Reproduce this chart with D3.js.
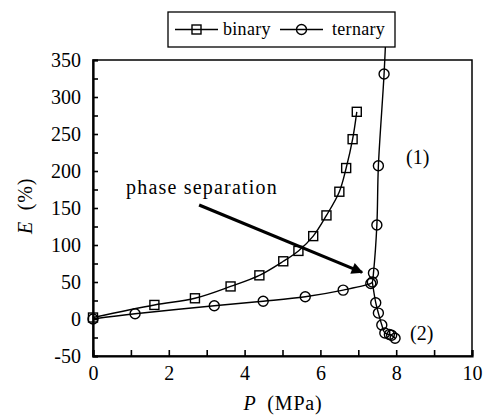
<!DOCTYPE html>
<html>
<head>
<meta charset="utf-8">
<script src="https://cdn.jsdelivr.net/npm/d3@7/dist/d3.min.js"></script>
<style>
  html, body { margin: 0; padding: 0; background: #fff; }
  svg { display: block; }
</style>
</head>
<body>
<svg id="chart" width="483" height="418"></svg>
<script>
// Binary mixture: pressure P (MPa) vs expansion E (%)
const binaryP = [0, 1.62, 2.69, 3.63, 4.39, 5.02, 5.42, 5.81, 6.16, 6.5, 6.68, 6.85, 6.96];
const binaryE = [2, 19, 28, 44, 59, 78, 92, 112, 140, 172, 204, 243, 280];

// Ternary mixture, branch (1): rising branch after phase separation
const ternaryP = [0, 1.11, 3.2, 4.49, 5.6, 6.6, 7.33, 7.37, 7.4, 7.49, 7.53, 7.68, 7.74];
const ternaryE = [0, 7, 18, 24, 30, 39, 48, 50, 62, 127, 207, 331, 400];

// Ternary mixture, branch (2): falling branch after phase separation
const ternaryLowP = [7.37, 7.46, 7.53, 7.62, 7.7, 7.82, 7.88, 7.97];
const ternaryLowE = [50, 22, 8, -8, -19, -21, -22, -26];

const xTicks = [0, 2, 4, 6, 8, 10];
const yTicks = [-50, 0, 50, 100, 150, 200, 250, 300, 350];
const seriesNames = ["binary", "ternary"];

const SERIF = "'Liberation Serif', 'Times New Roman', serif";

const svg = d3.select("#chart");
const margin = { left: 93, top: 60, right: 11, bottom: 62 };
const W = 483, H = 418;
const x = d3.scaleLinear().domain([0, 10]).range([margin.left, W - margin.right]);
const y = d3.scaleLinear().domain([-50, 350]).range([H - margin.bottom, margin.top]);

const zip = (a, b) => a.map((v, i) => [v, b[i]]);
const binary = zip(binaryP, binaryE);
const ternary = zip(ternaryP, ternaryE);
const ternaryLow = zip(ternaryLowP, ternaryLowE);

// helper for serif labels
function label(sel, x0, y0, size) {
  return sel.append("text").attr("x", x0).attr("y", y0)
    .attr("font-family", SERIF).attr("font-size", size).attr("fill", "#000");
}

// frame
svg.append("rect")
  .attr("x", x(0)).attr("y", y(350))
  .attr("width", x(10) - x(0)).attr("height", y(-50) - y(350))
  .attr("fill", "none").attr("stroke", "#000").attr("stroke-width", 1.5);

// axes with inward ticks
const xAxis = d3.axisBottom(x).tickValues(d3.range(0, 10.01, 1)).tickSize(-6).tickPadding(10)
  .tickFormat(d => xTicks.includes(d) ? d3.format("d")(d) : "");
const gx = svg.append("g").attr("transform", `translate(0,${y(-50)})`).call(xAxis)
  .attr("font-family", SERIF).attr("font-size", 20);
gx.select(".domain").attr("stroke-width", 2.2);
gx.selectAll(".tick line").attr("stroke-width", 1.6);

const yAxis = d3.axisLeft(y).tickValues(d3.range(-50, 350.01, 25)).tickSize(-5).tickPadding(12)
  .tickFormat(d => yTicks.includes(d) ? String(d) : "");
const gy = svg.append("g").attr("transform", `translate(${x(0)},0)`).call(yAxis)
  .attr("font-family", SERIF).attr("font-size", 20);
gy.select(".domain").attr("stroke-width", 2.2);
gy.selectAll(".tick line").attr("stroke-width", 1.6);

// axis titles
const xt = label(svg, 283, 410, 20).attr("text-anchor", "middle").attr("letter-spacing", 0.8);
xt.append("tspan").attr("font-style", "italic").text("P");
xt.append("tspan").attr("dx", 5).text(" (MPa)");
const yt = svg.append("text")
  .attr("transform", `translate(32,${(y(350) + y(-50)) / 2 - 2}) rotate(-90)`)
  .attr("font-family", SERIF).attr("font-size", 20).attr("text-anchor", "middle")
  .attr("letter-spacing", 0.8);
yt.append("tspan").attr("font-style", "italic").text("E");
yt.append("tspan").attr("dx", 5).text(" (%)");

// curves
const line = d3.line().x(d => x(d[0])).y(d => y(d[1])).curve(d3.curveCatmullRom.alpha(0.5));
[binary, ternary, ternaryLow].forEach(data => {
  svg.append("path").datum(data).attr("d", line)
    .attr("fill", "none").attr("stroke", "#000").attr("stroke-width", 1.4);
});

// markers
const sq = 9;
svg.append("g").selectAll("rect").data(binary).join("rect")
  .attr("x", d => x(d[0]) - sq / 2).attr("y", d => y(d[1]) - sq / 2)
  .attr("width", sq).attr("height", sq)
  .attr("fill", "none").attr("stroke", "#000").attr("stroke-width", 1.4);
svg.append("g").selectAll("circle").data(ternary.concat(ternaryLow.slice(1))).join("circle")
  .attr("cx", d => x(d[0])).attr("cy", d => y(d[1])).attr("r", 5)
  .attr("fill", "none").attr("stroke", "#000").attr("stroke-width", 1.4);

// annotation arrow
svg.append("defs").append("marker")
  .attr("id", "head").attr("viewBox", "0 0 10 10").attr("refX", 9).attr("refY", 5)
  .attr("markerWidth", 4.5).attr("markerHeight", 3.6).attr("orient", "auto")
  .attr("markerUnits", "strokeWidth")
  .append("path").attr("d", "M0,0 L10,5 L0,10 Z").attr("fill", "#000");
svg.append("line")
  .attr("x1", x(2.8)).attr("y1", y(154))
  .attr("x2", x(7.1)).attr("y2", y(63))
  .attr("stroke", "#000").attr("stroke-width", 3.2).attr("marker-end", "url(#head)");
label(svg, 126, 194, 20).attr("letter-spacing", 1.2).text("phase separation");
label(svg, 406, 164, 20).text("(1)");
label(svg, 410, 340, 20).text("(2)");

// legend
const lg = svg.append("g");
lg.append("rect").attr("x", 168).attr("y", 12).attr("width", 227).attr("height", 35)
  .attr("fill", "#fff").attr("stroke", "#000").attr("stroke-width", 1.3);
const items = [
  { name: seriesNames[0], x0: 175, tx: 223 },
  { name: seriesNames[1], x0: 280, tx: 332 }
];
items.forEach((it, i) => {
  lg.append("line").attr("x1", it.x0).attr("x2", it.x0 + 43).attr("y1", 29.5).attr("y2", 29.5)
    .attr("stroke", "#000").attr("stroke-width", 1.4);
  if (i === 0) {
    lg.append("rect").attr("x", it.x0 + 21.5 - sq / 2).attr("y", 29.5 - sq / 2)
      .attr("width", sq).attr("height", sq).attr("fill", "none").attr("stroke", "#000").attr("stroke-width", 1.4);
  } else {
    lg.append("circle").attr("cx", it.x0 + 21.5).attr("cy", 29.5).attr("r", 5)
      .attr("fill", "none").attr("stroke", "#000").attr("stroke-width", 1.4);
  }
  label(lg, it.tx, 35, 18).attr("letter-spacing", 0.3).text(it.name);
});
</script>
</body>
</html>
